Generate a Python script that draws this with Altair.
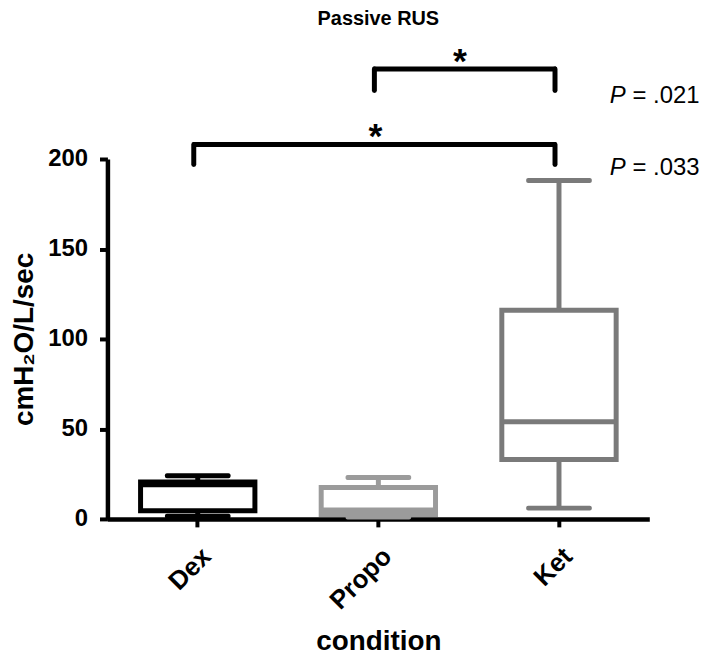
import altair as alt
import pandas as pd

categories = ["Dex", "Propo", "Ket"]
whisker_low = [1.5, 1.0, 6.0]
q1 = [4.5, 2.5, 33.0]
median = [19.0, 5.0, 54.0]
q3 = [20.5, 17.5, 116.0]
whisker_high = [24.0, 23.0, 188.0]
colors = ["#000000", "#9b9b9b", "#7a7a7a"]

bracket_left = ["Propo", "Dex"]
bracket_right = ["Ket", "Ket"]
bracket_top = [250.0, 208.0]
bracket_bottom = [238.0, 197.0]
p_labels = ["= .021", "= .033"]
p_y = [235.0, 195.0]

FONT = "Liberation Sans"

box_df = pd.DataFrame({
    "cond": categories, "lo": whisker_low, "q1": q1, "med": median,
    "q3": q3, "hi": whisker_high,
})
br_df = pd.DataFrame({"l": bracket_left, "r": bracket_right,
                      "top": bracket_top, "bot": bracket_bottom})
ends_df = pd.DataFrame({
    "cond": bracket_left + bracket_right,
    "top": bracket_top + bracket_top,
    "bot": bracket_bottom + bracket_bottom,
})
p_df = pd.DataFrame({"cond": ["Ket", "Ket"], "y": p_y, "t": p_labels})

x_scale = alt.Scale(domain=categories, paddingInner=0, paddingOuter=0)
x_axis = alt.Axis(title="condition", labelAngle=-45, labelPadding=16,
                  labelFontSize=26, titlePadding=14, titleFontSize=28)
y_scale = alt.Scale(domain=[0, 200], nice=False)
y_axis = alt.Axis(title="cmH₂O/L/sec", values=[0, 50, 100, 150, 200],
                  labelPadding=12, labelFontSize=24, titlePadding=9, titleFontSize=28)


def X(f="cond"):
    return alt.X(f"{f}:N", scale=x_scale, axis=x_axis, sort=categories)


def Y(f):
    return alt.Y(f"{f}:Q", scale=y_scale, axis=y_axis)


col = alt.Color("cond:N", scale=alt.Scale(domain=categories, range=colors), legend=None)
stk = alt.Stroke("cond:N", scale=alt.Scale(domain=categories, range=colors), legend=None)

base = alt.Chart(box_df)
whisk = base.mark_rule(strokeWidth=5).encode(x=X(), y=Y("lo"), y2="hi", color=col)
box = base.mark_bar(size=115, fill="white", strokeWidth=5).encode(
    x=X(), y=Y("q1"), y2="q3", stroke=stk)
med = base.mark_tick(size=115, thickness=5, opacity=1).encode(x=X(), y=Y("med"), color=col)
cap_lo = base.mark_tick(size=66, thickness=5, cornerRadius=2, opacity=1).encode(
    x=X(), y=Y("lo"), color=col)
cap_hi = base.mark_tick(size=66, thickness=5, cornerRadius=2, opacity=1).encode(
    x=X(), y=Y("hi"), color=col)

br_h = alt.Chart(br_df).mark_rule(strokeWidth=5, color="black", xOffset=-5, x2Offset=-3).encode(
    x=X("l"), x2="r", y=Y("top"))
br_v = alt.Chart(ends_df).mark_rule(strokeWidth=5, color="black", strokeCap="round", xOffset=-4).encode(
    x=X(), y=Y("top"), y2="bot")

star_style = dict(text="*", fontSize=36, fontWeight="bold", font=FONT, color="black")
star1 = alt.Chart(pd.DataFrame({"cond": ["Propo"], "y": [254.0]})).mark_text(dx=82, **star_style).encode(
    x=X(), y=Y("y"))
star2 = alt.Chart(pd.DataFrame({"cond": ["Propo"], "y": [212.0]})).mark_text(dx=-3, **star_style).encode(
    x=X(), y=Y("y"))

p_italic = alt.Chart(p_df).mark_text(text="P", fontStyle="italic", fontSize=24, font=FONT,
                                      align="left", dx=51, color="black").encode(x=X(), y=Y("y"))
p_rest = alt.Chart(p_df).mark_text(fontSize=24, font=FONT, align="left", dx=74,
                                    color="black").encode(x=X(), y=Y("y"), text="t:N")

chart = alt.layer(whisk, box, med, cap_lo, cap_hi, br_h, br_v, star1, star2, p_italic, p_rest).properties(
    width=545, height=362,
    autosize=alt.AutoSizeParams(type="none"),
    padding={"left": 100, "top": 150, "right": 52, "bottom": 136},
    title=alt.TitleParams("Passive RUS", fontSize=20, font=FONT, fontWeight="bold",
                          anchor="middle", offset=15, color="black"),
).configure_view(stroke=None).configure_axis(
    grid=False, domainColor="black", domainWidth=4.5, tickColor="black", tickWidth=4,
    tickSize=8, labelFont=FONT, labelFontWeight="bold", labelColor="black",
    titleFont=FONT, titleFontWeight="bold", titleColor="black",
)

chart.save("out.html", embed_options={"renderer": "svg", "actions": False})
